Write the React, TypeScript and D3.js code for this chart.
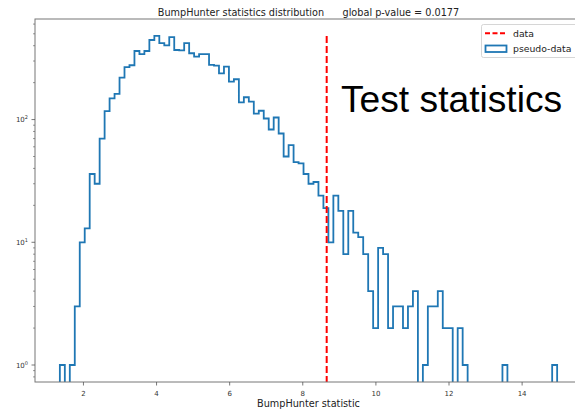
import React from "react";
import * as d3 from "d3";

// Histogram of pseudo-data BumpHunter statistics (100 bins)
const histRange = [1.355, 14.958];
const counts = [
  1, 0, 1, 3, 10, 13, 36, 30, 70, 117,
  149, 162, 220, 268, 277, 362, 342, 362, 445, 480,
  419, 402, 469, 369, 366, 419, 347, 326, 341, 341,
  279, 275, 238, 270, 204, 213, 138, 152, 140, 112,
  118, 102, 83, 104, 77, 50, 62, 45, 44, 36,
  30, 31, 24, 19, 10, 24, 18, 8, 18, 12,
  11, 8, 4, 2, 9, 8, 2, 3, 3, 2,
  3, 4, 0, 1, 3, 3, 4, 2, 2, 0,
  2, 1, 0, 0, 0, 0, 0, 0, 0, 1,
  0, 0, 0, 0, 0, 0, 0, 0, 0, 1,
];
const dataValue = 8.654;
const xTicks = [2, 4, 6, 8, 10, 12, 14];
const yMajorTicks = [1, 10, 100];
const yTickExponents = ["0", "1", "2"];
const titleText = "BumpHunter statistics distribution      global p-value = 0.0177";
const xLabel = "BumpHunter statistic";
const legendLabels = ["data", "pseudo-data"];
const overlayText = "Test statistics";

const W = 575;
const H = 410;
const L = 35, R = 582, T = 19, B = 382;

export default function App() {
  const x = d3.scaleLinear().domain([0.675, 15.638]).range([L, R]);
  const y = d3.scaleLog().domain([0.727, 660]).range([B, T]);
  const n = counts.length;
  const bw = (histRange[1] - histRange[0]) / n;
  const yOf = (c: number) => (c > 0 ? y(c) : B + 20);

  let path = `M${x(histRange[0])},${B + 20}`;
  counts.forEach((c, i) => {
    const x0 = x(histRange[0] + i * bw);
    const x1 = x(histRange[0] + (i + 1) * bw);
    path += `L${x0},${yOf(c)}L${x1},${yOf(c)}`;
  });
  path += `L${x(histRange[1])},${B + 20}`;

  const minor: number[] = [];
  for (let e = -1; e <= 2; e++) {
    for (let k = 2; k <= 9; k++) {
      const v = k * Math.pow(10, e);
      if (v > 0.727 && v < 660) minor.push(v);
    }
  }
  const maxCount = d3.max(counts) as number;
  const font = "DejaVu Sans, sans-serif";

  return (
    <svg width={W} height={H} style={{ position: "absolute", left: 0, top: 0, background: "#fff" }}>
      <defs>
        <clipPath id="ax">
          <rect x={L} y={T} width={R - L} height={B - T} />
        </clipPath>
      </defs>
      <rect x={0} y={0} width={W} height={H} fill="#fff" />
      <g clipPath="url(#ax)">
        <path d={path} fill="none" stroke="#1f77b4" strokeWidth={1.8} />
        <line x1={x(dataValue)} x2={x(dataValue)} y1={y(maxCount)} y2={B}
          stroke="#ff0000" strokeWidth={2} strokeDasharray="7,3" />
      </g>
      {/* spines */}
      <rect x={L} y={T} width={R - L} height={B - T} fill="none" stroke="#777" strokeWidth={1} />
      {/* x ticks */}
      {xTicks.map((t) => (
        <g key={t}>
          <line x1={x(t)} x2={x(t)} y1={B} y2={B + 3.5} stroke="#555" strokeWidth={0.8} />
          <text x={x(t)} y={396} fontSize={7} fontFamily={font} fill="#333" textAnchor="middle">{t}</text>
        </g>
      ))}
      {/* y ticks */}
      {yMajorTicks.map((t, i) => (
        <g key={t}>
          <line x1={L - 3.5} x2={L} y1={y(t)} y2={y(t)} stroke="#555" strokeWidth={0.8} />
          <text x={28} y={y(t) + 2.5} fontSize={7} fontFamily={font} fill="#333" textAnchor="end">
            <tspan>10</tspan>
            <tspan dy={-3} fontSize={5}>{yTickExponents[i]}</tspan>
          </text>
        </g>
      ))}
      {minor.map((t) => (
        <line key={t} x1={L - 2} x2={L} y1={y(t)} y2={y(t)} stroke="#555" strokeWidth={0.6} />
      ))}
      {/* title and labels */}
      <text x={(L + R) / 2} y={15.5} fontSize={9.7} fontFamily={font} fill="#222" textAnchor="middle"
        style={{ whiteSpace: "pre" }} xmlSpace="preserve">{titleText}</text>
      <text x={(L + R) / 2} y={406.5} fontSize={9.7} fontFamily={font} fill="#222" textAnchor="middle">{xLabel}</text>
      {/* legend */}
      <rect x={481.5} y={24.5} width={100} height={33} rx={2} fill="#fff" fillOpacity={0.8} stroke="#ccc" strokeWidth={0.8} />
      <line x1={485} x2={507} y1={33.3} y2={33.3} stroke="#ff0000" strokeWidth={2} strokeDasharray="5,2.5" />
      <text x={513} y={36.5} fontSize={9.3} fontFamily={font} fill="#222">{legendLabels[0]}</text>
      <rect x={485.5} y={45.5} width={21} height={6.5} fill="none" stroke="#1f77b4" strokeWidth={1.8} />
      <text x={513} y={52.3} fontSize={9.3} fontFamily={font} fill="#222">{legendLabels[1]}</text>
      {/* overlay text */}
      <text x={341} y={111.7} fontSize={37.2} fontFamily="Liberation Sans, Arial, sans-serif" fill="#000">{overlayText}</text>
    </svg>
  );
}
